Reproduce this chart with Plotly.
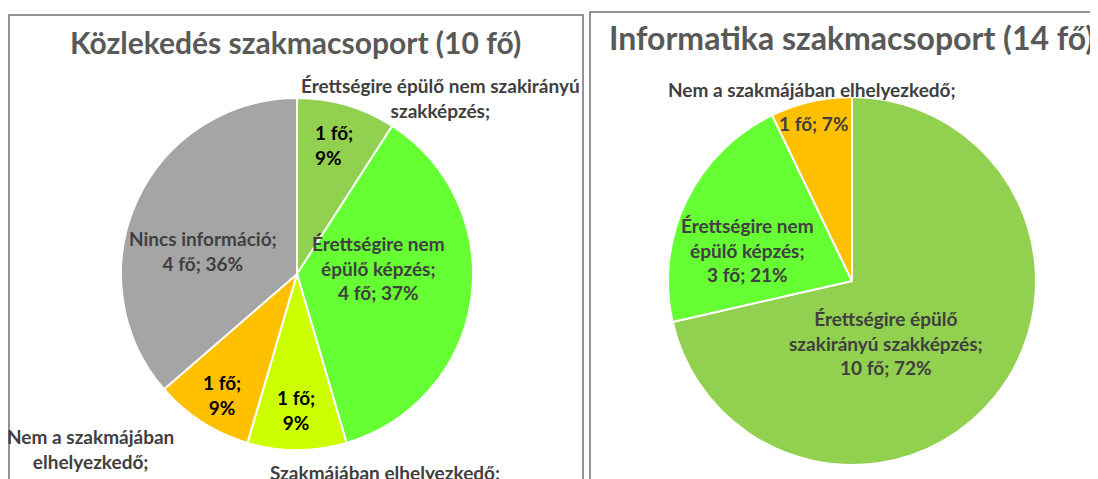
import plotly.graph_objects as go

# the page body has an 8px margin, so the figure is drawn 8px in from the corner
OFF = 8
W, H = 1098 - OFF, 479 - OFF

# Közlekedés szakmacsoport (clockwise from 12 o'clock)
kozl_labels = ["Érettségire épülő nem szakirányú szakképzés", "Érettségire nem épülő képzés",
               "Szakmájában elhelyezkedő", "Nem a szakmájában elhelyezkedő", "Nincs információ"]
kozl_values = [1, 4, 1, 1, 4]
kozl_pct = ["9%", "37%", "9%", "9%", "36%"]
kozl_colors = ["#92D050", "#66FF33", "#CCFF00", "#FFC000", "#A5A5A5"]

# Informatika szakmacsoport
info_labels = ["Érettségire épülő szakirányú szakképzés", "Érettségire nem épülő képzés",
               "Nem a szakmájában elhelyezkedő"]
info_values = [10, 3, 1]
info_pct = ["72%", "21%", "7%"]
info_colors = ["#92D050", "#66FF33", "#FFC000"]

FONT = "Lato"
DARK = "#404040"


def px(x):
    return (x - OFF) / W


def py(y):
    return 1 - (y - OFF) / H


def val(v, p):
    return f"{v} fő; {p}"


fig = go.Figure()

fig.add_trace(go.Pie(
    labels=kozl_labels, values=kozl_values, textinfo="none",
    marker=dict(colors=kozl_colors, line=dict(color="white", width=2)),
    sort=False, direction="clockwise", rotation=0,
    domain=dict(x=[px(121), px(473)], y=[py(450), py(98)]),
    showlegend=False, hoverinfo="label+value",
))

fig.add_trace(go.Pie(
    labels=info_labels, values=info_values, textinfo="none",
    marker=dict(colors=info_colors, line=dict(color="white", width=2)),
    sort=False, direction="clockwise", rotation=0,
    domain=dict(x=[px(668), px(1036)], y=[py(465), py(97)]),
    showlegend=False, hoverinfo="label+value",
))

k, i = kozl_labels, info_labels
annotations = [
    dict(text="Közlekedés szakmacsoport (10 fő)", x=px(295), y=py(42),
         font=dict(size=30, color="#595959", weight="bold")),
    dict(text="Informatika szakmacsoport (14 fő)", x=px(851), y=py(38),
         font=dict(size=32, color="#595959", weight="bold")),
    # left pie
    dict(text="Érettségire épülő nem szakirányú<br>szakképzés;", x=px(440), y=py(98)),
    dict(text=val(kozl_values[0], "").split(";")[0] + ";<br>" + kozl_pct[0],
         x=px(313), y=py(145), xanchor="left", align="left", color="#000000"),
    dict(text="Érettségire nem<br>épülő képzés;<br>" + val(kozl_values[1], kozl_pct[1]),
         x=px(378), y=py(268)),
    dict(text=f"{kozl_values[2]} fő;<br>{kozl_pct[2]}", x=px(296), y=py(410), color="#000000"),
    dict(text=f"{kozl_values[3]} fő;<br>{kozl_pct[3]}", x=px(222), y=py(395), color="#000000"),
    dict(text="Nincs információ;<br>" + val(kozl_values[4], kozl_pct[4]), x=px(203), y=py(251)),
    dict(text="Nem a szakmájában<br>elhelyezkedő;", x=px(90), y=py(449)),
    dict(text="Szakmájában elhelyezkedő;", x=px(385), y=py(472)),
    # right pie
    dict(text="Nem a szakmájában elhelyezkedő;", x=px(812), y=py(90)),
    dict(text=val(info_values[2], info_pct[2]), x=px(813), y=py(124)),
    dict(text="Érettségire nem<br>épülő képzés;<br>" + val(info_values[1], info_pct[1]),
         x=px(747), y=py(250)),
    dict(text="Érettségire épülő<br>szakirányú szakképzés;<br>" + val(info_values[0], info_pct[0]),
         x=px(886), y=py(343)),
]
for a in annotations:
    color = a.pop("color", DARK)
    a.setdefault("font", dict(size=19, color=color, weight="bold"))
    a["font"]["family"] = FONT
    a.setdefault("xanchor", "center")
    a.update(xref="paper", yref="paper", yanchor="middle", showarrow=False)

fig.update_layout(
    width=W, height=H,
    margin=dict(l=0, r=0, t=0, b=0),
    paper_bgcolor="white", plot_bgcolor="white",
    annotations=annotations,
    shapes=[
        dict(type="rect", xref="paper", yref="paper",
             x0=px(9), x1=px(583), y0=py(520), y1=py(15),
             line=dict(color="#6F6F6F", width=1.5)),
        dict(type="rect", xref="paper", yref="paper",
             x0=px(590), x1=px(1140), y0=py(520), y1=py(12),
             line=dict(color="#6F6F6F", width=1.5)),
    ],
)

fig.write_html("out.html")
